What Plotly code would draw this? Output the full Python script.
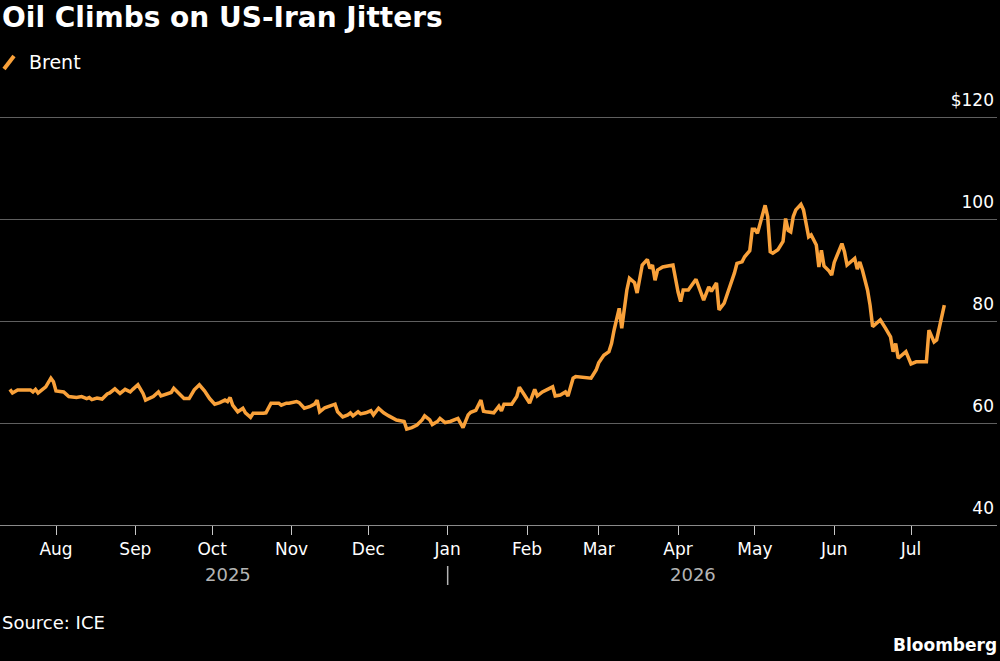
import plotly.graph_objects as go

# ---- data ----
dates = [
    "2025-07-14", "2025-07-15", "2025-07-17", "2025-07-22", "2025-07-23", "2025-07-24", "2025-07-25", "2025-07-28", "2025-07-30", "2025-07-31",
    "2025-08-01", "2025-08-04", "2025-08-06", "2025-08-09", "2025-08-11", "2025-08-13", "2025-08-14", "2025-08-15", "2025-08-17", "2025-08-19",
    "2025-08-21", "2025-08-22", "2025-08-24", "2025-08-26", "2025-08-28", "2025-08-30", "2025-08-31",
    "2025-09-02", "2025-09-04", "2025-09-05", "2025-09-08", "2025-09-10", "2025-09-11", "2025-09-13", "2025-09-15", "2025-09-16", "2025-09-18",
    "2025-09-20", "2025-09-22", "2025-09-24", "2025-09-26", "2025-09-28", "2025-09-30",
    "2025-10-02", "2025-10-04", "2025-10-06", "2025-10-07", "2025-10-08", "2025-10-09", "2025-10-11", "2025-10-13", "2025-10-14", "2025-10-16",
    "2025-10-17", "2025-10-21", "2025-10-22", "2025-10-24", "2025-10-27", "2025-10-28", "2025-10-30", "2025-10-31",
    "2025-11-03", "2025-11-04", "2025-11-06", "2025-11-08", "2025-11-10", "2025-11-11", "2025-11-12", "2025-11-14", "2025-11-16", "2025-11-18",
    "2025-11-19", "2025-11-21", "2025-11-23", "2025-11-24", "2025-11-25", "2025-11-27", "2025-11-28", "2025-11-30",
    "2025-12-02", "2025-12-03", "2025-12-05", "2025-12-07", "2025-12-09", "2025-12-10", "2025-12-12", "2025-12-14", "2025-12-15", "2025-12-16",
    "2025-12-18", "2025-12-20", "2025-12-22", "2025-12-23", "2025-12-25", "2025-12-26", "2025-12-28", "2025-12-29", "2025-12-31",
    "2026-01-02", "2026-01-04", "2026-01-05", "2026-01-07", "2026-01-09", "2026-01-10", "2026-01-12", "2026-01-14", "2026-01-15", "2026-01-16",
    "2026-01-19", "2026-01-21", "2026-01-22", "2026-01-23", "2026-01-26", "2026-01-28", "2026-01-29", "2026-01-31",
    "2026-02-02", "2026-02-04", "2026-02-05", "2026-02-07", "2026-02-09", "2026-02-11", "2026-02-12", "2026-02-14", "2026-02-16", "2026-02-17",
    "2026-02-19", "2026-02-20", "2026-02-26", "2026-02-28",
    "2026-03-01", "2026-03-03", "2026-03-05", "2026-03-06", "2026-03-07", "2026-03-08", "2026-03-09", "2026-03-10", "2026-03-12", "2026-03-13",
    "2026-03-15", "2026-03-16", "2026-03-18", "2026-03-20", "2026-03-21", "2026-03-22", "2026-03-23", "2026-03-24", "2026-03-26", "2026-03-28",
    "2026-03-30",
    "2026-04-01", "2026-04-02", "2026-04-03", "2026-04-05", "2026-04-08", "2026-04-10", "2026-04-11", "2026-04-13", "2026-04-14", "2026-04-16",
    "2026-04-17", "2026-04-19", "2026-04-21", "2026-04-23", "2026-04-24", "2026-04-26", "2026-04-27", "2026-04-29", "2026-04-30",
    "2026-05-01", "2026-05-02", "2026-05-04", "2026-05-05", "2026-05-06", "2026-05-07", "2026-05-08", "2026-05-10", "2026-05-12", "2026-05-13",
    "2026-05-14", "2026-05-15", "2026-05-16", "2026-05-17", "2026-05-19", "2026-05-20", "2026-05-22", "2026-05-23", "2026-05-25", "2026-05-26",
    "2026-05-27", "2026-05-28", "2026-05-30", "2026-05-31",
    "2026-06-01", "2026-06-04", "2026-06-05", "2026-06-06", "2026-06-09", "2026-06-10", "2026-06-11", "2026-06-12", "2026-06-14", "2026-06-15",
    "2026-06-16", "2026-06-19", "2026-06-21", "2026-06-23", "2026-06-24", "2026-06-25", "2026-06-26", "2026-06-29",
    "2026-07-01", "2026-07-03", "2026-07-07", "2026-07-08", "2026-07-10", "2026-07-11", "2026-07-14",
]

brent = [
    66.6, 65.9, 66.5, 66.5, 66.1, 66.6, 65.9, 67.1, 68.8, 68.1,
    66.3, 66.1, 65.2, 65.0, 65.2, 64.8, 65.0, 64.6, 64.9, 64.7,
    65.7, 65.9, 66.7, 65.8, 66.6, 66.1, 66.6,
    67.5, 65.8, 64.5, 65.2, 66.1, 65.3, 65.7, 66.0, 66.8, 65.8,
    64.8, 64.8, 66.5, 67.5, 66.3, 64.8,
    63.7, 64.0, 64.5, 64.2, 65.0, 63.5, 62.2, 62.9, 62.0, 61.1,
    61.9, 61.9, 62.0, 63.9, 63.9, 63.5, 63.9, 63.9,
    64.2, 64.0, 62.9, 63.2, 63.7, 64.5, 62.2, 63.0, 63.3, 63.7,
    62.2, 61.2, 61.6, 62.0, 61.4, 62.2, 61.8, 62.0,
    62.4, 61.6, 62.9, 62.0, 61.4, 61.1, 60.6, 60.4, 60.3, 58.8,
    59.1, 59.6, 60.6, 61.4, 60.6, 59.7, 60.3, 60.9, 60.1,
    60.3, 60.6, 60.9, 59.1, 61.6, 62.1, 62.5, 64.5, 62.3, 62.2,
    62.0, 63.3, 62.4, 63.7, 63.7, 65.2, 67.0, 65.5,
    63.9, 66.6, 65.3, 66.1, 66.6, 67.1, 65.3, 65.5, 66.1, 65.3,
    68.8, 69.1, 68.8, 70.4,
    71.8, 73.3, 74.0, 75.6, 78.2, 80.2, 82.5, 78.6, 86.1, 88.4,
    87.5, 85.5, 91.0, 92.1, 90.3, 91.0, 88.0, 90.0, 90.6, 90.8,
    91.0,
    85.7, 83.8, 86.1, 86.1, 88.2, 85.1, 84.1, 86.7, 85.8, 87.5,
    82.2, 83.5, 86.4, 89.4, 91.3, 91.6, 92.6, 93.8, 98.0,
    98.0, 97.2, 100.5, 102.7, 100.5, 93.6, 93.3, 94.0, 95.6, 100.1,
    97.8, 97.5, 100.5, 101.8, 102.9, 101.8, 96.5, 96.9, 94.9, 90.6,
    93.9, 90.8, 89.8, 89.0,
    91.5, 95.2, 93.6, 91.0, 92.3, 90.2, 91.6, 90.0, 86.1, 83.1,
    78.9, 80.2, 78.6, 76.9, 74.0, 75.6, 72.7, 74.0,
    71.6, 72.0, 72.0, 78.2, 75.9, 76.3, 83.1,
]

month_ticks = ["2025-08-01", "2025-09-01", "2025-10-01", "2025-11-01", "2025-12-01", "2026-01-01",
               "2026-02-01", "2026-03-01", "2026-04-01", "2026-05-01", "2026-06-01", "2026-07-01"]
month_labels = ["Aug", "Sep", "Oct", "Nov", "Dec", "Jan", "Feb", "Mar", "Apr", "May", "Jun", "Jul"]

year_labels = ["2025", "2026"]
year_positions = ["2025-10-07", "2026-04-07"]
year_break = "2026-01-01"

y_ticks = [40, 60, 80, 100, 120]
y_labels = ["40", "60", "80", "100", "$120"]

ORANGE = "#F9A13A"
FONT = "DejaVu Sans"

PLOT_BOTTOM = 525
PLOT_H = 413


def py(pixel_y):
    """Convert a page pixel row into paper coordinates."""
    return (PLOT_BOTTOM - pixel_y) / PLOT_H


fig = go.Figure()
fig.add_trace(go.Scatter(
    x=dates, y=brent, mode="lines", name="Brent",
    line=dict(color=ORANGE, width=3.5), hoverinfo="x+y",
))

fig.update_layout(
    width=1000, height=661,
    paper_bgcolor="black", plot_bgcolor="black",
    margin=dict(l=0, r=3, t=PLOT_BOTTOM - PLOT_H, b=661 - PLOT_BOTTOM),
    showlegend=False,
    font=dict(family=FONT, color="white", size=17),
    xaxis=dict(
        type="date",
        range=["2025-07-10 03:00", "2026-08-03 14:00"],
        tickmode="array", tickvals=month_ticks, ticktext=month_labels,
        showgrid=False, zeroline=False,
        showline=True, linecolor="#8a8a8a", linewidth=1,
        ticks="outside", ticklen=9, tickwidth=1, tickcolor="#c8c8c8",
        tickfont=dict(family=FONT, size=17, color="white"),
    ),
    yaxis=dict(
        range=[40, 121], side="right",
        tickmode="array", tickvals=y_ticks, ticktext=y_labels,
        ticklabelposition="inside top", ticklabeloverflow="allow",
        ticklabelshift=-5,
        showgrid=True, gridcolor="#5f5f5f", gridwidth=1,
        zeroline=False, showline=False, ticks="",
        tickfont=dict(family=FONT, size=17, color="white"),
    ),
)

# Title
fig.add_annotation(text="<b>Oil Climbs on US-Iran Jitters</b>", xref="paper", yref="paper",
                   x=0, y=py(17), xanchor="left", yanchor="middle", showarrow=False,
                   font=dict(family=FONT, size=28, color="white"))
# Legend
fig.add_shape(type="line", xref="paper", yref="paper",
              x0=4 / 997, y0=py(69), x1=14 / 997, y1=py(56),
              line=dict(color=ORANGE, width=4))
fig.add_annotation(text="Brent", xref="paper", yref="paper",
                   x=27 / 997, y=py(62), xanchor="left", yanchor="middle", showarrow=False,
                   font=dict(family=FONT, size=19, color="white"))
# Year labels
for lab, pos in zip(year_labels, year_positions):
    fig.add_annotation(text=lab, xref="x", yref="paper", x=pos, y=py(574),
                       xanchor="center", yanchor="middle", showarrow=False,
                       font=dict(family=FONT, size=18, color="#b4b4b4"))
fig.add_shape(type="line", xref="x", yref="paper", x0=year_break, x1=year_break,
              y0=py(566), y1=py(585),
              line=dict(color="#b4b4b4", width=1.5))
# Source & branding
fig.add_annotation(text="Source: ICE", xref="paper", yref="paper",
                   x=0, y=py(622), xanchor="left", yanchor="middle", showarrow=False,
                   font=dict(family=FONT, size=18, color="white"))
fig.add_annotation(text="<b>Bloomberg</b>", xref="paper", yref="paper",
                   x=1, xshift=2, y=py(645), xanchor="right", yanchor="middle", showarrow=False,
                   font=dict(family=FONT, size=17, color="white"))

fig.write_html("out.html")
